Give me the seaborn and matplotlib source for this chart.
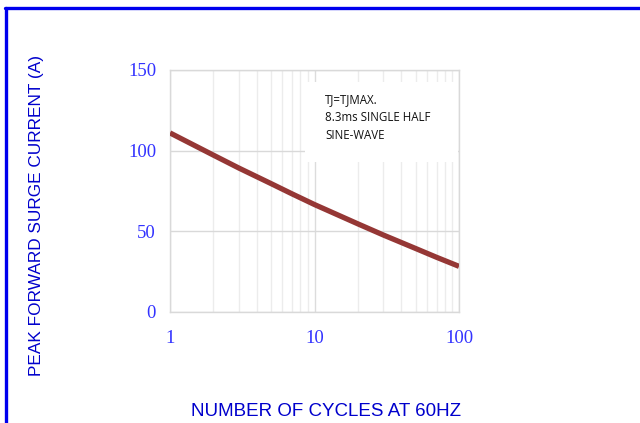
import matplotlib
matplotlib.use("Agg")
import matplotlib.pyplot as plt
import seaborn as sns
import pandas as pd
from matplotlib.lines import Line2D
from matplotlib.patches import Rectangle
from matplotlib.ticker import FixedLocator, NullFormatter

cycles = [1, 2, 3, 5, 7, 10, 20, 30, 50, 70, 100]
current = [111, 97.2, 89.2, 79.6, 73.2, 66.6, 54.6, 47.7, 39.4, 33.9, 28.3]
x_ticks = [1, 10, 100]
x_tick_labels = ["1", "10", "100"]
y_ticks = [0, 50, 100, 150]
note = "TJ=TJMAX.\n8.3ms SINGLE HALF\nSINE-WAVE"

sns.set_style("white")
df = pd.DataFrame({"cycles": cycles, "current": current})

fig = plt.figure(figsize=(6.4, 4.23), dpi=100)
ax = fig.add_axes([170/640, 1-312/423, 289/640, 242/423])

ax.set_xscale("log")
ax.set_xlim(1, 100)
ax.set_ylim(0, 150)

sns.lineplot(data=df, x="cycles", y="current", ax=ax, color="#953735",
             linewidth=3.8, solid_capstyle="butt", solid_joinstyle="round",
             zorder=3)

ax.xaxis.set_major_locator(FixedLocator(x_ticks))
ax.set_xticklabels(x_tick_labels)
minors = [m * d for d in (1, 10) for m in range(2, 10)]
ax.xaxis.set_minor_locator(FixedLocator(minors))
ax.xaxis.set_minor_formatter(NullFormatter())
ax.set_yticks(y_ticks)

ax.grid(True, which="minor", axis="x", color="#ececec", linewidth=1.0, zorder=0)
ax.grid(True, which="major", axis="x", color="#dcdcdc", linewidth=1.0, zorder=0)
ax.grid(True, which="major", axis="y", color="#d9d9d9", linewidth=1.0, zorder=0)
ax.set_axisbelow(True)

for s in ax.spines.values():
    s.set_color("#d9d9d9")
    s.set_linewidth(1.0)

ax.tick_params(axis="both", which="both", length=0)
ax.tick_params(axis="x", pad=13)
ax.tick_params(axis="y", pad=10)
for lab in ax.get_xticklabels() + ax.get_yticklabels():
    lab.set_fontfamily("Liberation Serif")
    lab.set_fontsize(13.5)
    lab.set_color("#3333ff")

ax.set_xlabel("")
ax.set_ylabel("")

# note box
ax.add_patch(Rectangle((305/640, 1-162/423), 153/640, 80/423,
                       transform=fig.transFigure, facecolor="white",
                       edgecolor="none", zorder=2, clip_on=False))
ax.text(325/640, 1-93/423, note, transform=fig.transFigure, fontsize=8.3,
        family="Open Sans", color="#111111", va="top", ha="left",
        linespacing=1.5, zorder=5)

fig.text(37/640, 1-215/423, "PEAK FORWARD SURGE CURRENT (A)", rotation=90,
         ha="center", va="center", fontsize=12.4, family="Liberation Sans",
         color="#0000cc")
fig.text(326/640, 1-411/423, "NUMBER OF CYCLES AT 60HZ",
         ha="center", va="center", fontsize=13.5, family="Liberation Sans",
         color="#0000cc")

# blue frame (top + left)
fig.add_artist(Line2D([5/640, 1], [1-8/423, 1-8/423], transform=fig.transFigure,
                      color="#0000ee", linewidth=2.4))
fig.add_artist(Line2D([6/640, 6/640], [0, 1-8/423], transform=fig.transFigure,
                      color="#0000ee", linewidth=2.4))

fig.savefig("out.png", dpi=100)
